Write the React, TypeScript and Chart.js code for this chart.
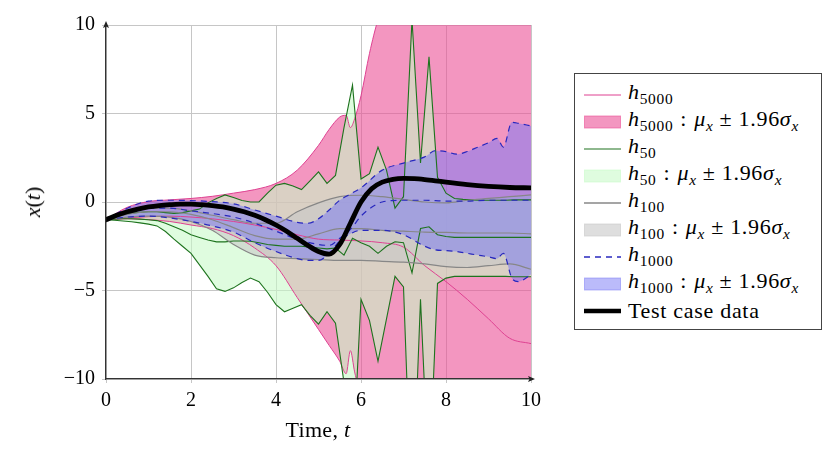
import React, { useEffect, useRef } from "react";
import { Chart, registerables } from "chart.js";

Chart.register(...registerables);

// time grids
const pinkT = [0, 0.5, 1, 1.5, 2, 2.5, 3, 3.5, 4, 4.5, 5, 5.25, 5.5, 5.65, 5.75, 5.85, 6, 6.2, 6.4, 6.6, 7, 8, 9, 10];
const smoothT = [0, 0.5, 1, 1.5, 2, 2.5, 3, 3.5, 4, 4.5, 5, 5.5, 6, 6.5, 7, 7.5, 8, 8.5, 9, 9.5, 10];
const greenT = [
  0, 0.2, 0.4, 0.6, 0.8, 1, 1.2, 1.4, 1.6, 1.8, 2, 2.2, 2.4, 2.6, 2.8, 3, 3.2, 3.4, 3.6, 3.8,
  4, 4.2, 4.4, 4.6, 4.8, 5, 5.2, 5.4, 5.6, 5.8, 6, 6.2, 6.4, 6.6, 6.8, 7, 7.2, 7.4, 7.6, 7.8,
  8, 8.2, 8.4, 8.6, 8.8, 9, 9.2, 9.4, 9.6, 9.8, 10,
];
const blueT = [0, 0.5, 1, 1.5, 2, 2.5, 3, 3.5, 4, 4.5, 4.75, 5, 5.25, 5.5, 5.75, 6, 6.5, 7, 7.5, 7.75, 8, 8.25, 8.5, 8.75, 9, 9.2, 9.35, 9.55, 9.7, 10];
const blueMeanT = [0, 0.5, 1, 1.5, 2, 2.5, 3, 3.5, 4, 4.5, 5, 5.25, 5.5, 5.75, 6, 6.25, 6.5, 7, 7.5, 8, 8.5, 9, 9.5, 10];
const testT = [
  0, 0.25, 0.5, 0.75, 1, 1.25, 1.5, 1.75, 2, 2.25, 2.5, 2.75, 3, 3.25, 3.5, 3.75, 4, 4.25, 4.5, 4.75,
  5, 5.25, 5.5, 5.75, 6, 6.25, 6.5, 6.75, 7, 7.25, 7.5, 7.75, 8, 8.5, 9, 9.5, 10,
];

// h5000
const pinkUpper = [-1, -0.3, 0.02, 0.12, 0.2, 0.32, 0.5, 0.7, 1.05, 1.8, 3.2, 4.1, 4.8, 4.9, 4.2, 4.7, 6.0, 8.4, 10.3, 11.5, 12.5, 14, 15, 16];
const pinkLower = [-1, -0.95, -1.0, -1.1, -1.3, -1.5, -1.9, -2.6, -3.6, -5.4, -7.2, -8.1, -9.0, -9.7, -8.4, -9.6, -11, -11.5, -12, -12.3, -13, -14, -15, -16];
const pinkMean = [-1, -0.9, -0.83, -0.8, -0.85, -0.95, -1.1, -1.3, -1.55, -1.85, -2.1, -2.15, -2.2, -2.3, -2.55, -3.6, -4.5, -5.5, -6.6, -7.7, -8.0];

// h50
const greenUpper = [
  -1.0, -0.85, -0.72, -0.64, -0.58, -0.55, -0.55, -0.6, -0.64, -0.6,
  -0.5, -0.4, -0.05, 0.2, 0.4, 0.25, 0.08, 0.0, 0.0, 0.5,
  0.95, 1.05, 0.9, 0.7, 1.2, 1.7, 1.05, 1.5, 4.2, 6.6,
  1.3, 1.6, 3.1, 1.8, -0.35, 0.3, 10.3, 2.2, 8.2, 1.4,
  0.5, 0.2, 0.15, 0.12, 0.1, 0.1, 0.1, 0.1, 0.12, 0.12, 0.12,
];
const greenMean = [
  -1.0, -0.97, -0.95, -0.95, -0.97, -1.0, -1.05, -1.2, -1.4, -1.6,
  -1.85, -2.0, -2.15, -2.25, -2.25, -2.2, -2.2, -2.22, -2.3, -2.4,
  -2.45, -2.5, -2.5, -2.5, -2.55, -2.6, -2.65, -2.6, -3.0, -2.05,
  -2.3, -2.5, -2.9, -2.5, -2.25, -2.3, -4.0, -1.5, -1.4, -1.85,
  -1.95, -2.0, -2.0, -2.0, -2.0, -2.0, -2.0, -2.0, -2.0, -2.0, -2.0,
];
const greenLower = [
  -1.0, -1.03, -1.07, -1.12, -1.18, -1.25, -1.35, -1.67, -2.1, -2.5,
  -2.9, -3.55, -4.2, -4.9, -5.05, -4.85, -4.55, -4.3, -4.5, -5.1,
  -5.8, -6.2, -6.0, -5.8, -6.4, -6.9, -6.2, -6.85, -10.2, -15,
  -5.5, -6.7, -9.0, -6.6, -4.2, -4.8, -18, -5.5, -16, -4.6,
  -4.3, -4.2, -4.2, -4.2, -4.2, -4.2, -4.2, -4.2, -4.22, -4.22, -4.22,
];

// h100
const grayUpper = [-1, -0.55, -0.35, -0.35, -0.5, -0.75, -1.0, -1.2, -1.2, -0.55, -0.05, 0.3, 0.38, 0.3, 0.15, 0.0, -0.05, 0.1, 0.2, 0.3, 0.4];
const grayMean = [-1, -0.7, -0.55, -0.55, -0.7, -1.0, -1.45, -1.9, -2.1, -2.1, -1.8, -1.5, -1.5, -1.6, -1.65, -1.7, -1.72, -1.75, -1.75, -1.75, -1.8];
const grayLower = [-1, -0.85, -0.8, -0.85, -1.1, -1.6, -2.4, -3.0, -3.15, -3.2, -3.25, -3.3, -3.3, -3.35, -3.4, -3.5, -3.65, -3.7, -3.6, -3.5, -3.8];

// h1000
const blueUpper = [-1, -0.35, 0.05, 0.1, 0.08, 0.02, -0.1, -0.45, -0.8, -1.15, -1.2, -0.95, -0.45, 0.1, 0.45, 0.8, 1.8, 2.2, 2.55, 2.9, 2.85, 2.7, 2.85, 3.1, 3.35, 3.6, 3.1, 4.5, 4.45, 4.3];
const blueLower = [-1, -0.85, -0.8, -0.9, -1.1, -1.35, -1.7, -2.3, -2.8, -3.2, -3.3, -3.3, -2.9, -2.2, -1.8, -1.6, -1.6, -1.85, -2.5, -2.7, -2.75, -2.8, -2.9, -3.0, -3.1, -3.2, -2.9, -4.3, -4.5, -4.1];
const blueMean = [-1, -0.55, -0.35, -0.35, -0.5, -0.65, -0.85, -1.2, -1.65, -2.1, -2.4, -2.45, -2.05, -1.55, -0.8, -0.3, 0.0, 0.1, 0.1, 0.05, 0.05, 0.1, 0.1, 0.1];

// test case
const testData = [
  -1.0, -0.75, -0.55, -0.4, -0.28, -0.2, -0.15, -0.12, -0.12, -0.15, -0.2, -0.28, -0.4, -0.55, -0.75, -1.0,
  -1.3, -1.65, -2.05, -2.45, -2.8, -2.95, -2.4, -1.2, 0.0, 0.75, 1.12, 1.28, 1.33, 1.32, 1.27, 1.2,
  1.12, 0.98, 0.88, 0.82, 0.8,
];

const xTicks = [0, 2, 4, 6, 8, 10];
const yTicks = [-10, -5, 0, 5, 10];

const serif = "'Liberation Serif', 'Times New Roman', serif";

const pinkLine = "rgb(222,65,145)";
const pinkFill = "rgba(235,80,150,0.6)";
const greenLine = "rgb(30,115,30)";
const greenFill = "rgba(200,250,200,0.58)";
const grayLine = "rgb(135,135,135)";
const grayFill = "rgba(200,200,200,0.6)";
const blueLine = "rgb(40,40,190)";
const blueFill = "rgba(120,120,245,0.5)";

const pts = (xs: number[], ys: number[]) => xs.map((x, i) => ({ x, y: ys[i] }));

const smooth = { tension: 0.4, cubicInterpolationMode: "monotone" };
const straight = { tension: 0 };

const minus = (v: number) => (v < 0 ? "\u2212" + Math.abs(v) : String(v));

const axisArrows = {
  id: "axisArrows",
  afterDraw(chart: any) {
    const { ctx, chartArea: a } = chart;
    ctx.save();
    ctx.fillStyle = "#222";
    ctx.beginPath();
    ctx.moveTo(a.left, a.top - 4);
    ctx.lineTo(a.left - 3, a.top + 3);
    ctx.lineTo(a.left, a.top + 1.5);
    ctx.lineTo(a.left + 3, a.top + 3);
    ctx.closePath();
    ctx.fill();
    ctx.beginPath();
    ctx.moveTo(a.right + 4, a.bottom);
    ctx.lineTo(a.right - 3, a.bottom - 3);
    ctx.lineTo(a.right - 1.5, a.bottom);
    ctx.lineTo(a.right - 3, a.bottom + 3);
    ctx.closePath();
    ctx.fill();
    ctx.restore();
  },
};

const Sub = ({ children }: { children: React.ReactNode }) => (
  <span style={{ fontSize: "0.7em", verticalAlign: "-0.3em", fontStyle: "normal" }}>{children}</span>
);

const Band = ({ n }: { n: string }) => (
  <>
    <i>h</i>
    <Sub>{n}</Sub>
    <span style={{ margin: "0 0.32em" }}>:</span>
    <i>μ</i>
    <Sub>
      <i>x</i>
    </Sub>
    <span style={{ margin: "0 0.28em" }}>±</span>
    1.96
    <i>σ</i>
    <Sub>
      <i>x</i>
    </Sub>
  </>
);

const legendRows: { kind: string; color: string; width?: number; dash?: string; label: React.ReactNode }[] = [
  { kind: "line", color: pinkLine, width: 1, label: <><i>h</i><Sub>5000</Sub></> },
  { kind: "fill", color: pinkFill, label: <Band n="5000" /> },
  { kind: "line", color: greenLine, width: 1.2, label: <><i>h</i><Sub>50</Sub></> },
  { kind: "fill", color: greenFill, label: <Band n="50" /> },
  { kind: "line", color: grayLine, width: 1.3, label: <><i>h</i><Sub>100</Sub></> },
  { kind: "fill", color: grayFill, label: <Band n="100" /> },
  { kind: "line", color: blueLine, width: 1.3, dash: "6 5", label: <><i>h</i><Sub>1000</Sub></> },
  { kind: "fill", color: blueFill, label: <Band n="1000" /> },
  { kind: "line", color: "#000", width: 4.5, label: <>Test case data</> },
];

const App = () => {
  const canvasRef = useRef<HTMLCanvasElement>(null);
  const chartRef = useRef<Chart | null>(null);

  useEffect(() => {
    document.body.style.margin = "0";
    if (chartRef.current) chartRef.current.destroy();
    if (!canvasRef.current) return;

    const line = (color: string, width: number, order: number, extra: any = {}) => ({
      borderColor: color,
      borderWidth: width,
      pointRadius: 0,
      fill: false,
      order,
      ...extra,
    });

    chartRef.current = new Chart(canvasRef.current, {
      type: "line",
      data: {
        datasets: [
          { data: pts(pinkT, pinkUpper), ...line(pinkLine, 1, 10, smooth), fill: "+1", backgroundColor: pinkFill },
          { data: pts(pinkT, pinkLower), ...line(pinkLine, 1, 10, smooth) },
          { data: pts(greenT, greenUpper), ...line(greenLine, 1.1, 9, straight), fill: "+1", backgroundColor: greenFill },
          { data: pts(greenT, greenLower), ...line(greenLine, 1.1, 9, straight) },
          { data: pts(smoothT, grayUpper), ...line(grayLine, 1.2, 8, smooth), fill: "+1", backgroundColor: grayFill },
          { data: pts(smoothT, grayLower), ...line(grayLine, 1.2, 8, smooth) },
          { data: pts(blueT, blueUpper), ...line(blueLine, 1.2, 7, { ...smooth, borderDash: [6, 5] }), fill: "+1", backgroundColor: blueFill },
          { data: pts(blueT, blueLower), ...line(blueLine, 1.2, 7, { ...smooth, borderDash: [6, 5] }) },
          { data: pts(smoothT, pinkMean), ...line(pinkLine, 1, 10, smooth) },
          { data: pts(greenT, greenMean), ...line(greenLine, 1.1, 9, straight) },
          { data: pts(smoothT, grayMean), ...line(grayLine, 1.2, 8, smooth) },
          { data: pts(blueMeanT, blueMean), ...line(blueLine, 1.2, 7, { ...smooth, borderDash: [6, 5] }) },
          { data: pts(testT, testData), ...line("#000", 4.8, 0, { ...smooth, borderCapStyle: "round", borderJoinStyle: "round" }) },
        ] as any,
      },
      options: {
        responsive: false,
        animation: false,
        events: [],
        layout: { padding: { left: 0, top: 25, right: 298, bottom: 0 } },
        scales: {
          x: {
            type: "linear",
            min: 0,
            max: 10,
            afterFit: (s: any) => {
              s.height = 79;
            },
            afterBuildTicks: (s: any) => {
              s.ticks = xTicks.map((v) => ({ value: v }));
            },
            grid: { color: "#c6c6c6", lineWidth: 1, tickLength: 4 },
            border: { display: true, color: "#333", width: 1.3, z: 1 },
            ticks: {
              color: "#000",
              font: { family: serif, size: 20 },
              padding: 6,
              maxRotation: 0,
              callback: (v: any) => minus(Number(v)),
            },
          },
          y: {
            type: "linear",
            min: -10,
            max: 10,
            afterFit: (s: any) => {
              s.width = 106;
            },
            afterBuildTicks: (s: any) => {
              s.ticks = yTicks.map((v) => ({ value: v }));
            },
            grid: { color: "#c6c6c6", lineWidth: 1, tickLength: 4 },
            border: { display: true, color: "#333", width: 1.3, z: 1 },
            ticks: {
              color: "#000",
              font: { family: serif, size: 20 },
              padding: 7,
              callback: (v: any) => minus(Number(v)),
            },
          },
        },
        plugins: {
          legend: { display: false },
          tooltip: { enabled: false },
          filler: { drawTime: "beforeDatasetsDraw" },
        },
      } as any,
      plugins: [axisArrows],
    });

    return () => {
      if (chartRef.current) {
        chartRef.current.destroy();
        chartRef.current = null;
      }
    };
  }, []);

  return (
    <div style={{ position: "relative", width: 829, height: 458, background: "#fff", fontFamily: serif, color: "#000" }}>
      <canvas ref={canvasRef} width={829} height={458} style={{ position: "absolute", left: 0, top: 0, width: 829, height: 458 }} />
      {/* axis titles */}
      <div style={{ position: "absolute", left: 318, top: 418, transform: "translateX(-50%)", fontSize: 22, whiteSpace: "nowrap", lineHeight: "24px", letterSpacing: 0.3 }}>
        Time, <i>t</i>
      </div>
      <div
        style={{
          position: "absolute",
          left: 33,
          top: 202,
          transform: "translate(-50%, -50%) rotate(-90deg)",
          fontSize: 22,
          whiteSpace: "nowrap",
          lineHeight: "24px",
        }}
      >
        <i>x</i>(<i>t</i>)
      </div>
      {/* legend */}
      <div
        style={{
          position: "absolute",
          left: 574,
          top: 73,
          width: 246,
          height: 255,
          border: "1px solid #444",
          background: "#fff",
        }}
      />
      {legendRows.map((r, i) => {
        const cy = 95 + i * 27;
        return (
          <div key={i} style={{ position: "absolute", left: 584, top: cy - 14, height: 28, display: "flex", alignItems: "center", whiteSpace: "nowrap" }}>
            <svg width={37} height={14} style={{ display: "block" }}>
              {r.kind === "fill" ? (
                <rect x={0.5} y={1} width={36} height={12} fill={r.color} stroke={r.color} strokeWidth={1} />
              ) : (
                <line x1={0} y1={7} x2={37} y2={7} stroke={r.color} strokeWidth={r.width} strokeDasharray={r.dash} />
              )}
            </svg>
            <span style={{ marginLeft: 7, fontSize: 22, lineHeight: "28px", letterSpacing: 0.7 }}>{r.label}</span>
          </div>
        );
      })}
    </div>
  );
};

export default App;
